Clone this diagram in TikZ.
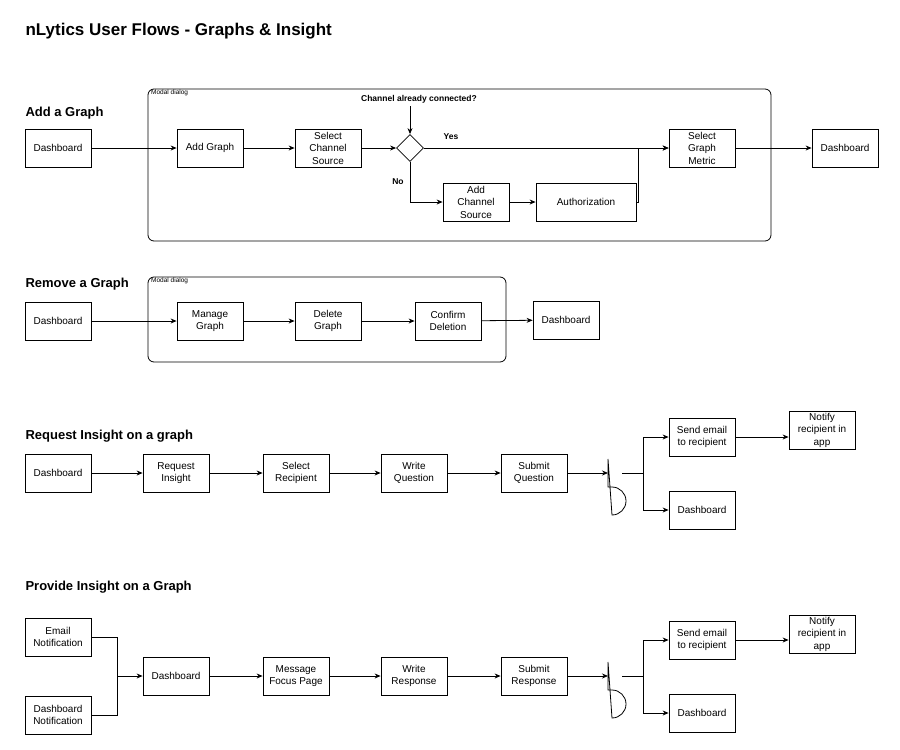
\documentclass[tikz,border=0pt]{standalone}
\usepackage{fontspec}
\setmainfont{Liberation Sans}
\usetikzlibrary{shapes.geometric,arrows.meta}
\begin{document}
\begin{tikzpicture}[x=1pt,y=-1pt,
 box/.style={draw,line width=0.8pt,minimum width=66pt,minimum height=38pt,align=center,inner sep=1pt,font=\fontsize{10}{12.5}\selectfont},
 ar/.style={-{Stealth[length=6pt,width=5pt]},line width=0.8pt},
 ln/.style={line width=0.8pt},
 sec/.style={anchor=west,font=\bfseries\fontsize{13}{15}\selectfont},
 modal/.style={draw,line width=0.8pt,rounded corners=6pt},
 mlabel/.style={anchor=north west,font=\fontsize{6.5}{7}\selectfont,inner sep=1pt}]
\useasboundingbox (0,0) rectangle (900,750);
\node[anchor=west,font=\bfseries\fontsize{17}{20}\selectfont] (title) at (22,31) {nLytics User Flows - Graphs \& Insight};
% Add a graph
\node[sec] (s1) at (22,113) {Add a Graph};
\draw[modal] (148,89) rectangle (771,241);
\node[mlabel] (m1) at (150,89) {Modal dialog};
\node[box] (a1) at (58,148) {Dashboard};
\node[box] (a2) at (210,148) {Add Graph};
\node[box] (a3) at (328,148) {Select\\Channel\\Source};
\node[draw,diamond,line width=0.8pt,minimum width=27pt,minimum height=27pt,inner sep=0] (d) at (410,148) {};
\node[font=\bfseries\fontsize{8.5}{10}\selectfont] (q) at (419,99) {Channel already connected?};
\node[box] (a4) at (702,148) {Select\\Graph\\Metric};
\node[box] (a5) at (845,148) {Dashboard};
\node[box] (a6) at (476,202) {Add\\Channel\\Source};
\node[box,minimum width=100pt] (a7) at (586,202) {Authorization};
\node[font=\bfseries\fontsize{8.5}{10}\selectfont] (yes) at (451,137) {Yes};
\node[font=\bfseries\fontsize{8.5}{10}\selectfont] (no) at (398,182) {No};
\draw[ar] (a1) -- (a2);
\draw[ar] (a2) -- (a3);
\draw[ar] (a3) -- (d);
\draw[ar] (q.south -| d.north) -- (d.north);
\draw[ar] (d) -- (a4);
\draw[ar] (d.south) |- (a6.west);
\draw[ar] (a6) -- (a7);
\draw[ar] (a7.east) -- (638,202) -- (638,148) -- (a4.west);
\draw[ar] (a4) -- (a5);
% Remove
\node[sec] (s2) at (22,284) {Remove a Graph};
\draw[modal] (148,277) rectangle (506,362);
\node[mlabel] (m2) at (150,277) {Modal dialog};
\node[box] (r1) at (58,321) {Dashboard};
\node[box] (r2) at (210,321) {Manage\\Graph};
\node[box] (r3) at (328,321) {Delete\\Graph};
\node[box] (r4) at (448,321) {Confirm\\Deletion};
\node[box] (r5) at (566,320) {Dashboard};
\draw[ar] (r1) -- (r2);
\draw[ar] (r2) -- (r3);
\draw[ar] (r3) -- (r4);
\draw[ar] (r4) -- (r5);
% Request
\node[sec] (s3) at (22,436) {Request Insight on a graph};
\node[box] (q1) at (58,473) {Dashboard};
\node[box] (q2) at (176,473) {Request\\Insight};
\node[box] (q3) at (296,473) {Select\\Recipient};
\node[box] (q4) at (414,473) {Write\\Question};
\node[box] (q5) at (534,473) {Submit\\Question};
\coordinate (g1) at (608,473);
\coordinate (g1o) at (622,473);
\draw[ln] (608,459) -- (608,487) -- (612,487) arc[start angle=-90,end angle=90,radius=14] -- cycle;
\node[box] (q6) at (702,437) {Send email\\to recipient};
\node[box] (q7) at (822,430) {Notify\\recipient in\\app};
\node[box] (q8) at (702,510) {Dashboard};
\draw[ar] (q1) -- (q2);
\draw[ar] (q2) -- (q3);
\draw[ar] (q3) -- (q4);
\draw[ar] (q4) -- (q5);
\draw[ar] (q5) -- (g1);
\draw[ln] (g1o) -- (643,473);
\draw[ar] (643,473) |- (q6.west);
\draw[ar] (643,473) |- (q8.west);
\draw[ar] (q6.east) -- (q6.east -| q7.west);
% Provide
\node[sec] (s4) at (22,587) {Provide Insight on a Graph};
\node[box] (p1) at (58,637) {Email\\Notification};
\node[box] (p2) at (58,715) {Dashboard\\Notification};
\node[box] (p3) at (176,676) {Dashboard};
\node[box] (p4) at (296,676) {Message\\Focus Page};
\node[box] (p5) at (414,676) {Write\\Response};
\node[box] (p6) at (534,676) {Submit\\Response};
\coordinate (g2) at (608,676);
\coordinate (g2o) at (622,676);
\draw[ln] (608,662) -- (608,690) -- (612,690) arc[start angle=-90,end angle=90,radius=14] -- cycle;
\node[box] (p7) at (702,640) {Send email\\to recipient};
\node[box] (p8) at (822,634) {Notify\\recipient in\\app};
\node[box] (p9) at (702,713) {Dashboard};
\draw[ln] (p1.east) -| (117,676);
\draw[ln] (p2.east) -| (117,676);
\draw[ar] (117,676) -- (p3.west);
\draw[ar] (p3) -- (p4);
\draw[ar] (p4) -- (p5);
\draw[ar] (p5) -- (p6);
\draw[ar] (p6) -- (g2);
\draw[ln] (g2o) -- (643,676);
\draw[ar] (643,676) |- (p7.west);
\draw[ar] (643,676) |- (p9.west);
\draw[ar] (p7.east) -- (p7.east -| p8.west);
\end{tikzpicture}
\end{document}
